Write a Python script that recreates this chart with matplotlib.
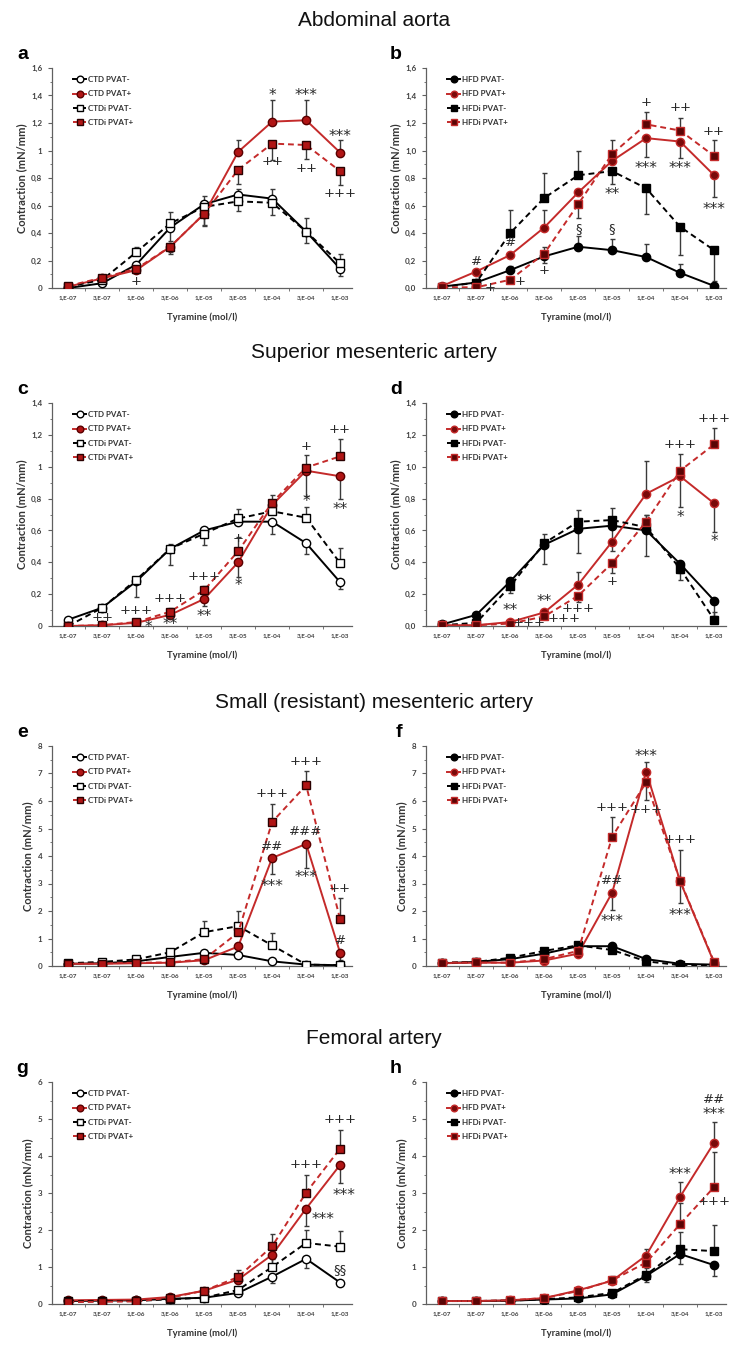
import numpy as np
import matplotlib

matplotlib.use("Agg")
import matplotlib.pyplot as plt
from matplotlib.ticker import MultipleLocator, FixedLocator
from matplotlib.transforms import ScaledTranslation

# ---- data -----------------------------------------------------------------
concentrations = ["1,E-07", "3,E-07", "1,E-06", "3,E-06", "1,E-05",
                  "3,E-05", "1,E-04", "3,E-04", "1,E-03"]
ctd_labels = ["CTD PVAT-", "CTD PVAT+", "CTDi PVAT-", "CTDi PVAT+"]
hfd_labels = ["HFD PVAT-", "HFD PVAT+", "HFDi PVAT-", "HFDi PVAT+"]
section_titles = ["Abdominal aorta", "Superior mesenteric artery",
                  "Small (resistant) mesenteric artery", "Femoral artery"]

# error values: positive = bar drawn upward, negative = downward
a_ctd_minus = [0.00, 0.035, 0.17, 0.44, 0.61, 0.68, 0.65, 0.41, 0.14]
a_ctd_minus_err = [0, 0, -0.03, -0.10, -0.06, -0.12, -0.12, -0.08, -0.05]
a_ctd_plus = [0.01, 0.07, 0.13, 0.30, 0.54, 0.99, 1.21, 1.22, 0.985]
a_ctd_plus_err = [0, 0, 0.02, -0.04, -0.08, 0.09, 0.16, 0.15, 0.09]
a_ctdi_minus = [0.01, 0.06, 0.26, 0.47, 0.59, 0.63, 0.62, 0.41, 0.18]
a_ctdi_minus_err = [0, 0, 0.04, 0.08, 0.08, 0.09, 0.10, 0.10, 0.07]
a_ctdi_plus = [0.015, 0.075, 0.14, 0.30, 0.54, 0.86, 1.05, 1.04, 0.85]
a_ctdi_plus_err = [0, 0, 0.02, -0.05, -0.09, -0.10, -0.12, -0.10, -0.10]
a_marks = [(6, 1.42, "*"), (7, 1.42, "***"), (8, 1.12, "***"), (6, 0.92, "++"),
           (7, 0.87, "++"), (8, 0.69, "+++"), (2, 0.05, "+")]

b_hfd_minus = [0.01, 0.04, 0.13, 0.23, 0.30, 0.275, 0.225, 0.11, 0.015]
b_hfd_minus_err = [0, 0, 0.03, -0.05, 0.08, 0.085, 0.095, 0.065, 0]
b_hfd_plus = [0.015, 0.12, 0.24, 0.44, 0.695, 0.925, 1.09, 1.065, 0.82]
b_hfd_plus_err = [0, 0, 0, 0.13, 0, 0, -0.14, -0.12, -0.16]
b_hfdi_minus = [0.005, 0.04, 0.40, 0.655, 0.82, 0.85, 0.725, 0.445, 0.275]
b_hfdi_minus_err = [0, 0, 0.17, 0.18, 0.18, -0.09, -0.185, -0.205, -0.225]
b_hfdi_plus = [0.005, 0.005, 0.06, 0.25, 0.61, 0.975, 1.19, 1.145, 0.96]
b_hfdi_plus_err = [0, 0, 0, 0.045, -0.10, 0.105, 0.09, 0.095, 0.115]
b_marks = [(1, 0.19, "#"), (2, 0.33, "#"), (1.4, 0.005, "+"), (2.3, 0.05, "+"),
           (3, 0.13, "+"), (4, 0.43, "§"), (5, 0.43, "§"), (5, 0.70, "**"),
           (6, 0.89, "***"), (7, 0.89, "***"), (8, 0.59, "***"), (6, 1.35, "+"),
           (7, 1.31, "++"), (8, 1.14, "++")]

c_ctd_minus = [0.04, 0.115, 0.28, 0.485, 0.60, 0.655, 0.655, 0.52, 0.275]
c_ctd_minus_err = [0, 0, -0.10, -0.10, 0, 0, -0.08, -0.07, -0.045]
c_ctd_plus = [0.0, 0.005, 0.02, 0.07, 0.17, 0.40, 0.76, 0.975, 0.94]
c_ctd_plus_err = [0, 0, 0, 0, -0.045, -0.09, 0, -0.16, -0.14]
c_ctdi_minus = [0.0, 0.115, 0.29, 0.485, 0.58, 0.675, 0.72, 0.68, 0.395]
c_ctdi_minus_err = [0, 0, 0.02, 0.03, -0.07, 0.06, 0, 0.065, 0.095]
c_ctdi_plus = [0.0, 0.005, 0.025, 0.09, 0.225, 0.47, 0.775, 0.995, 1.065]
c_ctdi_plus_err = [0, 0, 0, 0.02, 0.025, 0.09, 0.05, 0.08, 0.11]
c_marks = [(1, 0.056, "++"), (2, 0.095, "+++"), (2.35, 0.01, "*"), (3, 0.17, "+++"),
           (3, 0.025, "**"), (4, 0.31, "+++"), (4, 0.075, "**"), (5, 0.27, "*"),
           (5, 0.55, "+"), (7, 1.13, "+"), (7, 0.80, "*"), (8, 1.235, "++"),
           (8, 0.75, "**")]

d_hfd_minus = [0.01, 0.07, 0.28, 0.51, 0.61, 0.63, 0.60, 0.39, 0.16]
d_hfd_minus_err = [0, 0, 0.02, -0.12, -0.15, -0.09, -0.16, -0.06, -0.10]
d_hfd_plus = [0.005, 0.005, 0.025, 0.085, 0.26, 0.53, 0.83, 0.94, 0.77]
d_hfd_plus_err = [0, 0, 0, 0, 0.08, -0.06, 0.205, -0.19, -0.18]
d_hfdi_minus = [0.005, 0.02, 0.25, 0.52, 0.655, 0.665, 0.62, 0.36, 0.04]
d_hfdi_minus_err = [0, 0, -0.04, 0.055, 0.075, 0.075, 0.08, -0.07, 0.05]
d_hfdi_plus = [0.005, 0.005, 0.015, 0.06, 0.19, 0.395, 0.655, 0.975, 1.14]
d_hfdi_plus_err = [0, 0, 0, 0, -0.04, -0.065, 0.045, 0.105, 0.10]
d_marks = [(2, 0.115, "**"), (2.55, 0.025, "+++"), (3, 0.17, "**"),
           (3.6, 0.045, "+++"), (4, 0.11, "+++"), (5, 0.28, "+"),
           (7, 1.14, "+++"), (7, 0.70, "*"), (8, 1.30, "+++"), (8, 0.545, "*")]

e_ctd_minus = [0.08, 0.10, 0.17, 0.33, 0.48, 0.40, 0.17, 0.05, 0.03]
e_ctd_minus_err = [0, 0, 0, 0, 0.10, -0.10, 0, 0, 0]
e_ctd_plus = [0.08, 0.08, 0.10, 0.12, 0.21, 0.71, 3.93, 4.44, 0.48]
e_ctd_plus_err = [0, 0, 0, 0, 0, 0, -0.60, -0.87, -0.25]
e_ctdi_minus = [0.10, 0.15, 0.24, 0.50, 1.23, 1.45, 0.75, 0.05, 0.03]
e_ctdi_minus_err = [0, 0, 0, 0.10, 0.42, 0.55, 0.46, 0, 0]
e_ctdi_plus = [0.08, 0.09, 0.12, 0.13, 0.25, 1.22, 5.24, 6.57, 1.70]
e_ctdi_plus_err = [0, 0, 0, 0, 0, 0, 0.64, 0.53, 0.78]
e_marks = [(6, 6.27, "+++"), (6, 4.36, "##"), (6, 3.0, "***"), (7, 7.44, "+++"),
           (7, 4.88, "###"), (7, 3.33, "***"), (8, 2.82, "++"), (8, 0.94, "#")]

f_hfd_minus = [0.10, 0.15, 0.25, 0.45, 0.72, 0.72, 0.25, 0.08, 0.05]
f_hfd_minus_err = [0, 0, 0, 0, 0, 0, 0, 0, 0]
f_hfd_plus = [0.10, 0.12, 0.12, 0.20, 0.45, 2.67, 7.07, 3.08, 0.12]
f_hfd_plus_err = [0, 0, 0, 0, 0, -0.62, 0.33, -0.80, 0]
f_hfdi_minus = [0.12, 0.15, 0.30, 0.55, 0.75, 0.58, 0.17, 0.03, 0.03]
f_hfdi_minus_err = [0, 0, 0, 0, 0, 0, 0, 0, 0]
f_hfdi_plus = [0.12, 0.13, 0.12, 0.25, 0.55, 4.70, 6.68, 3.10, 0.15]
f_hfdi_plus_err = [0, 0, 0, 0, 0, 0.72, -0.63, 1.12, 0]
f_marks = [(5, 5.75, "+++"), (5, 3.1, "##"), (5, 1.71, "***"), (6, 7.72, "***"),
           (6, 5.69, "+++"), (7, 4.6, "+++"), (7, 1.92, "***")]

g_ctd_minus = [0.08, 0.09, 0.10, 0.14, 0.17, 0.30, 0.74, 1.22, 0.58]
g_ctd_minus_err = [0, 0, 0, 0, 0, 0, -0.16, -0.25, 0]
g_ctd_plus = [0.10, 0.11, 0.12, 0.19, 0.36, 0.66, 1.33, 2.58, 3.76]
g_ctd_plus_err = [0, 0, 0, 0, 0, 0, -0.25, -0.48, -0.48]
g_ctdi_minus = [0.07, 0.08, 0.08, 0.13, 0.17, 0.38, 1.0, 1.65, 1.55]
g_ctdi_minus_err = [0, 0, 0, 0, 0, 0, 0.22, 0.36, 0.42]
g_ctdi_plus = [0.05, 0.06, 0.07, 0.17, 0.36, 0.73, 1.56, 3.01, 4.20]
g_ctdi_plus_err = [0, 0, 0, 0, 0, 0.19, 0.32, 0.49, 0.51]
g_marks = [(7, 3.77, "+++"), (7.5, 2.36, "***"), (8, 4.98, "+++"),
           (8.1, 3.01, "***"), (8, 0.94, "§§")]

h_hfd_minus = [0.08, 0.08, 0.09, 0.12, 0.15, 0.26, 0.76, 1.35, 1.05]
h_hfd_minus_err = [0, 0, 0, 0, 0, 0, -0.17, -0.28, -0.30]
h_hfd_plus = [0.08, 0.08, 0.10, 0.16, 0.37, 0.63, 1.31, 2.90, 4.36]
h_hfd_plus_err = [0, 0, 0, 0, 0, 0.14, 0.19, 0.40, 0.57]
h_hfdi_minus = [0.08, 0.08, 0.09, 0.13, 0.18, 0.30, 0.79, 1.48, 1.43]
h_hfdi_minus_err = [0, 0, 0, 0, 0, 0, 0.17, 0.47, 0.70]
h_hfdi_plus = [0.08, 0.08, 0.10, 0.16, 0.35, 0.64, 1.12, 2.16, 3.16]
h_hfdi_plus_err = [0, 0, 0, 0, 0, 0, 0, 0.58, 0.95]
h_marks = [(7, 3.57, "***"), (8, 5.53, "##"), (8, 5.2, "***"), (8, 2.77, "+++")]

# ---- styling --------------------------------------------------------------
RED = "#c42a2a"
GREY = "#404040"
TEXT_FONT = ["Lato", "DejaVu Sans"]

plt.rcParams.update({
    "font.family": TEXT_FONT,
    "axes.linewidth": 0.9,
    "axes.edgecolor": "#606060",
})


def series_styles(diet):
    # (line colour, linestyle, marker, face, edge)
    if diet == "CTD":
        return [
            ("black", "-", "o", "white", "black"),
            (RED, "-", "o", "#b01515", "#5a0000"),
            ("black", (0, (3, 2)), "s", "white", "black"),
            (RED, (0, (3, 2)), "s", "#b01515", "#2a0000"),
        ]
    return [
        ("black", "-", "o", "black", "black"),
        (RED, "-", "o", "#7a0a0a", RED),
        ("black", (0, (3, 2)), "s", "black", "black"),
        (RED, (0, (3, 2)), "s", "#5a0505", RED),
    ]


def draw_panel(ax, letter, diet, values, errors, marks, ymax, ystep, decimals):
    x = np.arange(len(concentrations))
    labels = ctd_labels if diet == "CTD" else hfd_labels
    for vals, errs, label, (lc, ls, mk, fc, ec) in zip(values, errors, labels,
                                                       series_styles(diet)):
        vals = np.asarray(vals, dtype=float)
        errs = np.asarray(errs, dtype=float)
        keep = errs != 0
        if keep.any():
            lower = np.where(errs < 0, -errs, 0.0)[keep]
            upper = np.where(errs > 0, errs, 0.0)[keep]
            ax.errorbar(x[keep], vals[keep], yerr=[lower, upper], fmt="none",
                        ecolor="#3a3a3a", elinewidth=1.0, capsize=1.8,
                        capthick=1.0, zorder=2)
        ax.plot(x, vals, color=lc, linestyle=ls, linewidth=1.4, marker=mk,
                markersize=6 if mk == "o" else 5.6, markerfacecolor=fc,
                markeredgecolor=ec, markeredgewidth=1.0, label=label, zorder=3)

    # significance symbols; asterisks sit high in the glyph box, nudge them down
    star_shift = ax.transData + ScaledTranslation(0, -2 / 72, ax.figure.dpi_scale_trans)
    for xi, yi, txt in marks:
        is_star = set(txt) == {"*"}
        ax.text(xi, yi, txt, ha="center", va="center",
                fontsize=11 if is_star else 9.5, color="#2a2a2a",
                family=["DejaVu Sans"], zorder=4,
                transform=star_shift if is_star else ax.transData)

    ax.set_xlim(-0.48, 8.35)
    ax.set_ylim(0, ymax)
    ax.set_xticks(x)
    ax.set_xticklabels(concentrations, fontsize=4.6, color=GREY, fontweight="bold")
    ax.xaxis.set_minor_locator(FixedLocator(np.arange(-0.5, 8.6, 1.0)))
    ax.tick_params(axis="x", which="major", length=0, pad=5)
    ax.tick_params(axis="x", which="minor", length=2.5, color="#606060")

    ticks = np.arange(0, ymax + ystep / 2, ystep)
    ax.set_yticks(ticks)
    if decimals is None:
        ylabs = [("%g" % t).replace(".", ",") for t in ticks]
    else:
        ylabs = [("%.*f" % (decimals, t)).replace(".", ",") for t in ticks]
    ax.set_yticklabels(ylabs, fontsize=5.8, color=GREY, fontweight="bold")
    ax.yaxis.set_minor_locator(MultipleLocator(ystep / 2))
    ax.tick_params(axis="y", which="major", length=3, color="#606060", pad=4)
    ax.tick_params(axis="y", which="minor", length=1.8, color="#606060")

    for side in ("top", "right"):
        ax.spines[side].set_visible(False)

    ax.set_ylabel("Contraction (mN/mm)", fontsize=8, fontweight="bold",
                  color="#333333", labelpad=3)
    ax.set_xlabel("Tyramine (mol/l)", fontsize=6.8, fontweight="bold",
                  color="#333333", labelpad=9)

    leg = ax.legend(loc="upper left", bbox_to_anchor=(0.055, 0.985), frameon=False,
                    fontsize=5.8, handlelength=1.6, handletextpad=0.2,
                    labelspacing=0.9, markerscale=0.8, borderaxespad=0.2)
    for t in leg.get_texts():
        t.set_color("#333333")
        t.set_fontweight("bold")

    ax.text(-0.08, 1.06, letter, transform=ax.transAxes, fontsize=14,
            fontweight="bold", ha="right", va="center", color="black",
            family=["Liberation Sans", "DejaVu Sans"])


fig = plt.figure(figsize=(7.48, 13.51), dpi=100)
W, H = 748.0, 1351.0

left_cols = [52, 426]
ax_w = 300
rows = [(68, 288), (403, 626), (746, 966), (1082, 1304)]

panels = [
    ("a", "CTD", [a_ctd_minus, a_ctd_plus, a_ctdi_minus, a_ctdi_plus],
     [a_ctd_minus_err, a_ctd_plus_err, a_ctdi_minus_err, a_ctdi_plus_err],
     a_marks, 1.6, 0.2, None),
    ("b", "HFD", [b_hfd_minus, b_hfd_plus, b_hfdi_minus, b_hfdi_plus],
     [b_hfd_minus_err, b_hfd_plus_err, b_hfdi_minus_err, b_hfdi_plus_err],
     b_marks, 1.6, 0.2, 1),
    ("c", "CTD", [c_ctd_minus, c_ctd_plus, c_ctdi_minus, c_ctdi_plus],
     [c_ctd_minus_err, c_ctd_plus_err, c_ctdi_minus_err, c_ctdi_plus_err],
     c_marks, 1.4, 0.2, None),
    ("d", "HFD", [d_hfd_minus, d_hfd_plus, d_hfdi_minus, d_hfdi_plus],
     [d_hfd_minus_err, d_hfd_plus_err, d_hfdi_minus_err, d_hfdi_plus_err],
     d_marks, 1.4, 0.2, 1),
    ("e", "CTD", [e_ctd_minus, e_ctd_plus, e_ctdi_minus, e_ctdi_plus],
     [e_ctd_minus_err, e_ctd_plus_err, e_ctdi_minus_err, e_ctdi_plus_err],
     e_marks, 8, 1, None),
    ("f", "HFD", [f_hfd_minus, f_hfd_plus, f_hfdi_minus, f_hfdi_plus],
     [f_hfd_minus_err, f_hfd_plus_err, f_hfdi_minus_err, f_hfdi_plus_err],
     f_marks, 8, 1, None),
    ("g", "CTD", [g_ctd_minus, g_ctd_plus, g_ctdi_minus, g_ctdi_plus],
     [g_ctd_minus_err, g_ctd_plus_err, g_ctdi_minus_err, g_ctdi_plus_err],
     g_marks, 6, 1, None),
    ("h", "HFD", [h_hfd_minus, h_hfd_plus, h_hfdi_minus, h_hfdi_plus],
     [h_hfd_minus_err, h_hfd_plus_err, h_hfdi_minus_err, h_hfdi_plus_err],
     h_marks, 6, 1, None),
]

for i, (letter, diet, vals, errs, marks, ymax, ystep, dec) in enumerate(panels):
    top, bottom = rows[i // 2]
    x0 = left_cols[i % 2]
    ax = fig.add_axes([x0 / W, 1 - bottom / H, ax_w / W, (bottom - top) / H])
    draw_panel(ax, letter, diet, vals, errs, marks, ymax, ystep, dec)

title_y = [20, 352, 702, 1038]
for title, ty in zip(section_titles, title_y):
    fig.text(0.5, 1 - ty / H, title, ha="center", va="center", fontsize=15,
             family=["Liberation Sans", "DejaVu Sans"], color="#111111")

fig.savefig("out.png", dpi=100, facecolor="white")
